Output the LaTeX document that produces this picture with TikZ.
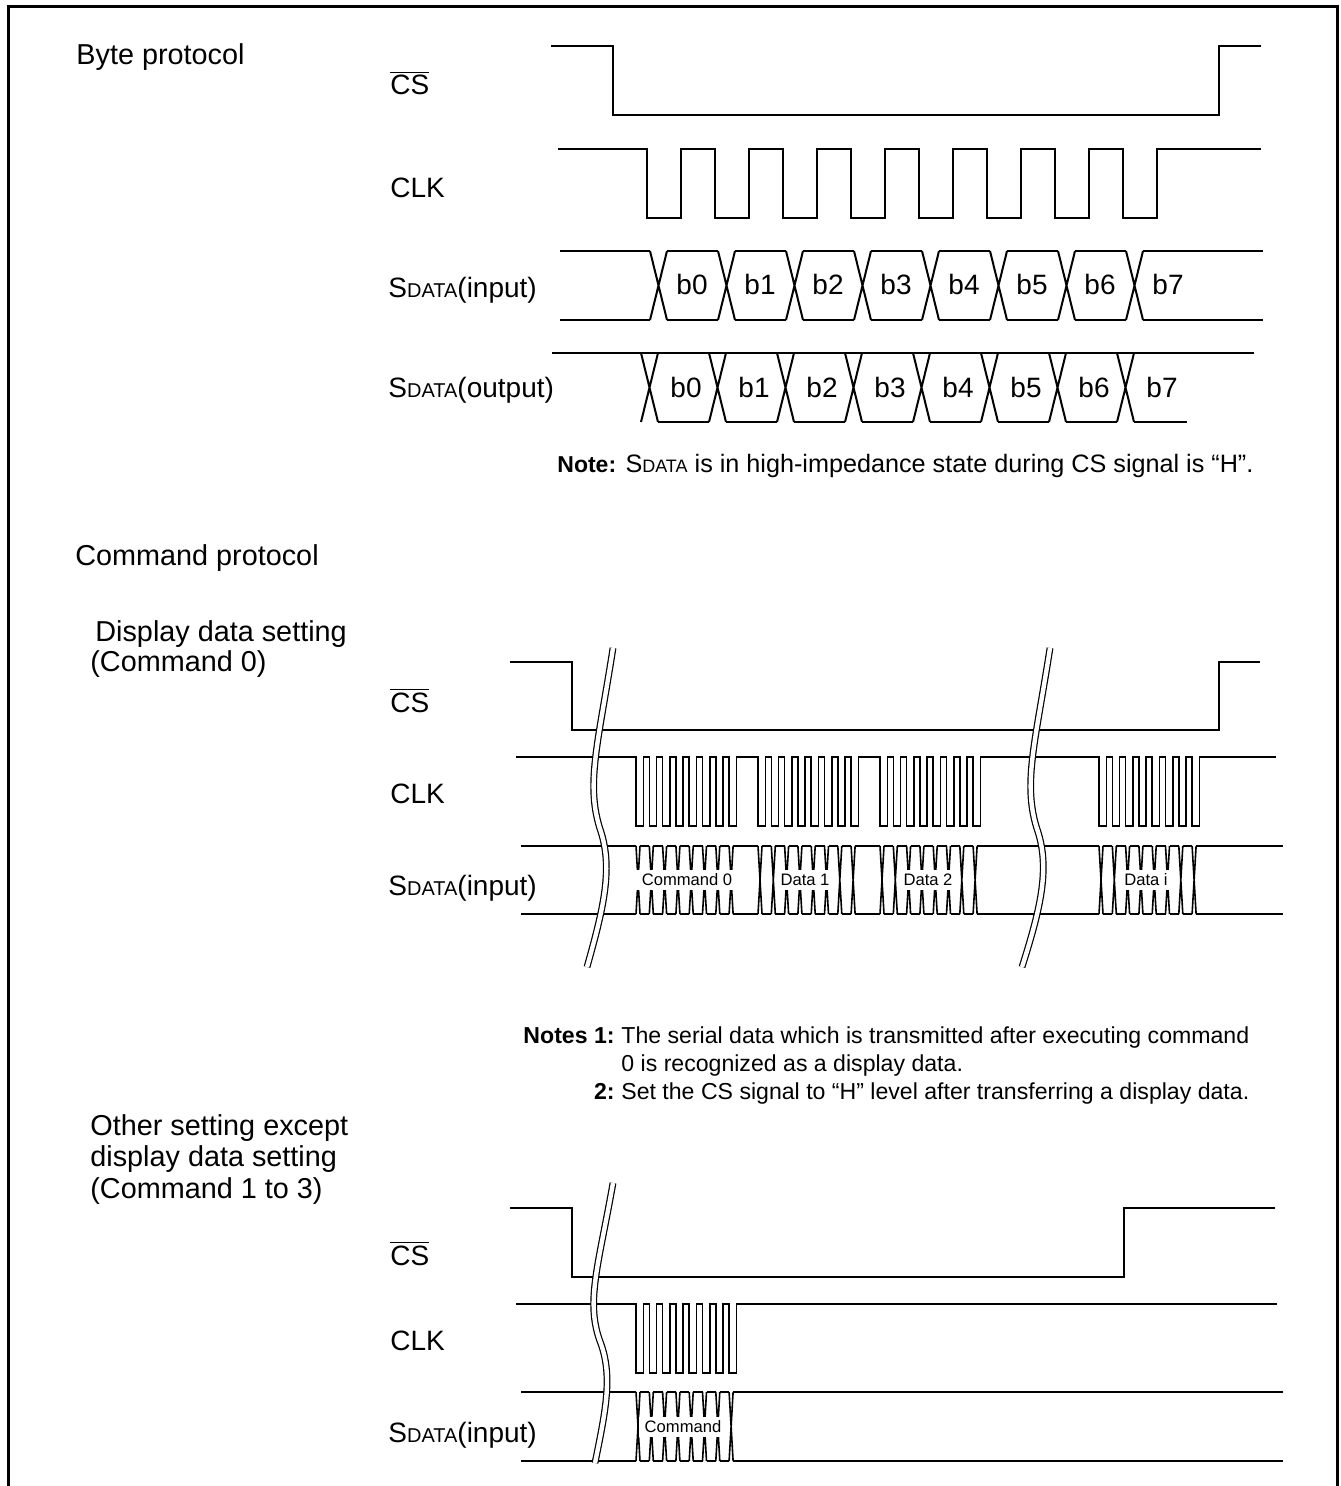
\documentclass[tikz,border=0pt]{standalone}
\usepackage{fontspec}
\setmainfont{Liberation Sans}
\usepackage{tikz}

\newcommand{\sdata}[1]{S{\fontsize{#1}{#1}\selectfont DATA}}
\newcommand{\csbar}{$\overline{\mbox{CS}}$}

\begin{document}
\begin{tikzpicture}[x=0.5pt,y=-0.5pt,
        every node/.style={inner sep=0pt},
        wave/.style={line width=1pt},
        fine/.style={line width=0.8pt},
        lbl/.style={anchor=base west,font=\fontsize{14pt}{16pt}\selectfont},
        head/.style={anchor=base west,font=\fontsize{14.4pt}{16pt}\selectfont},
        note/.style={anchor=base west,font=\fontsize{11.55pt}{14pt}\selectfont},
        tag/.style={fill=white,inner xsep=3pt,inner ysep=2pt,font=\fontsize{8.3pt}{10pt}\selectfont},
        brk/.style={double,double distance=2.2pt,line width=0.6pt}]
        \useasboundingbox (0,0) rectangle (1340,1486);

        % frame
        \draw[line width=1.5pt] (8,1486) -- (8,7) -- (1337,7) -- (1337,1486);

        % headings
        \node[head] (tByte) at (76,65) {Byte protocol};
        \node[head] (tCmd) at (75,565) {Command protocol};
        \node[head] (tDisp) at (95,641) {Display data setting};
        \node[head] (tDispB) at (90,671) {(Command 0)};
        \node[head] (tOther) at (90,1135) {Other setting except};
        \node[head] (tOtherB) at (90,1166) {display data setting};
        \node[head] (tOtherC) at (90,1198) {(Command 1 to 3)};

        % byte protocol
        \node[lbl] (sCSa) at (390,95) {\csbar};
        \node[lbl] (sCLKa) at (390,198) {CLK};
        \node[lbl] (sINa) at (388,298) {\sdata{10pt}(input)};
        \node[lbl] (sOUTa) at (388,398) {\sdata{10pt}(output)};

        \draw[wave] (551,46) -- (613,46) -- (613,115) -- (1219,115) -- (1219,46) -- (1261,46);
        \draw[wave] (558,149) \foreach \k in {0,...,7}{ -- (647+68*\k,149) -- ++(0,69) -- ++(34,0) -- ++(0,-69)} -- (1261,149);

        \draw[wave] (560,251) -- (650,251) (560,320) -- (650,320);
        \foreach \k in {0,...,7}
            \draw[wave] (650+68*\k,251) -- ++(17,69) (650+68*\k,320) -- ++(17,-69);
        \foreach \k in {0,...,6}
            \draw[wave] (667+68*\k,251) -- (718+68*\k,251) (667+68*\k,320) -- (718+68*\k,320);
        \draw[wave] (1143,251) -- (1263,251) (1143,320) -- (1263,320);
        \foreach \k in {0,...,7}
            \node[lbl,anchor=base] (bi\k) at (692+68*\k,295) {b\k};

        \draw[wave] (552,353) -- (1254,353);
        \foreach \k in {0,...,7}
            \draw[wave] (641+68*\k,353) -- ++(17,69) (641+68*\k,422) -- ++(17,-69);
        \foreach \k in {0,...,6}
            \draw[wave] (658+68*\k,422) -- (709+68*\k,422);
        \draw[wave] (1134,422) -- (1187,422);
        \foreach \k in {0,...,7}
            \node[lbl,anchor=base] (bo\k) at (686+68*\k,398) {b\k};

        \node[note,font=\fontsize{12.6pt}{14pt}\selectfont] (nNote) at (557,473)
            {{\fontsize{11.5pt}{14pt}\selectfont\textbf{Note:}} \sdata{9pt} is in high-impedance state during CS signal is “H”.};

        % display data setting
        \node[lbl] (sCSb) at (390,712) {\csbar};
        \node[lbl] (sCLKb) at (390,803) {CLK};
        \node[lbl] (sINb) at (388,895) {\sdata{10pt}(input)};

        \draw[fine] (510,662) -- (572,662) -- (572,730) -- (1219,730) -- (1219,662) -- (1260,662);
        \draw[fine] (516,757) \foreach \s in {636,758,880,1099}{\foreach \k in {0,...,7}{ -- (\s+13.3*\k,757) -- ++(0,69) -- ++(7.3,0) -- ++(0,-69)}} -- (1276,757);

        \draw[fine] (521,846) -- (636,846) (521,914) -- (636,914);
        \foreach \s/\e in {636/758,758/880,880/1099,1099/1283}{
            \foreach \k in {0,...,7}
                \draw[fine] (\s+13.3*\k,846) -- ++(4,68) (\s+13.3*\k,914) -- ++(4,-68);
            \foreach \k in {0,...,6}
                \draw[fine] (\s+13.3*\k+4,846) -- (\s+13.3*\k+13.3,846) (\s+13.3*\k+4,914) -- (\s+13.3*\k+13.3,914);
            \draw[fine] (\s+97.1,846) -- (\e,846) (\s+97.1,914) -- (\e,914);
        }
        \node[tag] (dCmd) at (687,880) {Command 0};
        \node[tag] (dOne) at (805,880) {Data 1};
        \node[tag] (dTwo) at (928,880) {Data 2};
        \node[tag] (dLast) at (1146,880) {Data i};

        \draw[brk] (613,648) .. controls (598,745) and (585,785) .. (601,832) .. controls (613,870) and (603,910) .. (587,967);
        \draw[brk] (1050,648) .. controls (1035,745) and (1022,785) .. (1038,832) .. controls (1050,870) and (1040,910) .. (1022,967);

        % notes
        \node[note,anchor=base east] (nOne) at (615,1043) {\textbf{Notes 1:}};
        \node[note] (nOneT) at (621,1043) {The serial data which is transmitted after executing command};
        \node[note] (nOneU) at (621,1071) {0 is recognized as a display data.};
        \node[note,anchor=base east] (nTwo) at (615,1099) {\textbf{2:}};
        \node[note] (nTwoT) at (621,1099) {Set the CS signal to “H” level after transferring a display data.};

        % other setting
        \node[lbl] (sCSc) at (390,1265) {\csbar};
        \node[lbl] (sCLKc) at (390,1350) {CLK};
        \node[lbl] (sINc) at (388,1442) {\sdata{10pt}(input)};

        \draw[fine] (510,1208) -- (572,1208) -- (572,1277) -- (1124,1277) -- (1124,1208) -- (1275,1208);
        \draw[fine] (516,1304) \foreach \k in {0,...,7}{ -- (636+13.3*\k,1304) -- ++(0,69) -- ++(7.3,0) -- ++(0,-69)} -- (1277,1304);

        \draw[fine] (521,1392) -- (636,1392) (521,1461) -- (636,1461);
        \foreach \k in {0,...,7}
            \draw[fine] (636+13.3*\k,1392) -- ++(4,69) (636+13.3*\k,1461) -- ++(4,-69);
        \foreach \k in {0,...,6}
            \draw[fine] (640+13.3*\k,1392) -- (649.3+13.3*\k,1392) (640+13.3*\k,1461) -- (649.3+13.3*\k,1461);
        \draw[fine] (733.1,1392) -- (1283,1392) (733.1,1461) -- (1283,1461);
        \node[tag] (cCmd) at (683,1427) {Command};

        \draw[brk] (613,1183) .. controls (598,1268) and (585,1303) .. (601,1344) .. controls (613,1378) and (605,1413) .. (595,1463);
    \end{tikzpicture}
\end{document}
